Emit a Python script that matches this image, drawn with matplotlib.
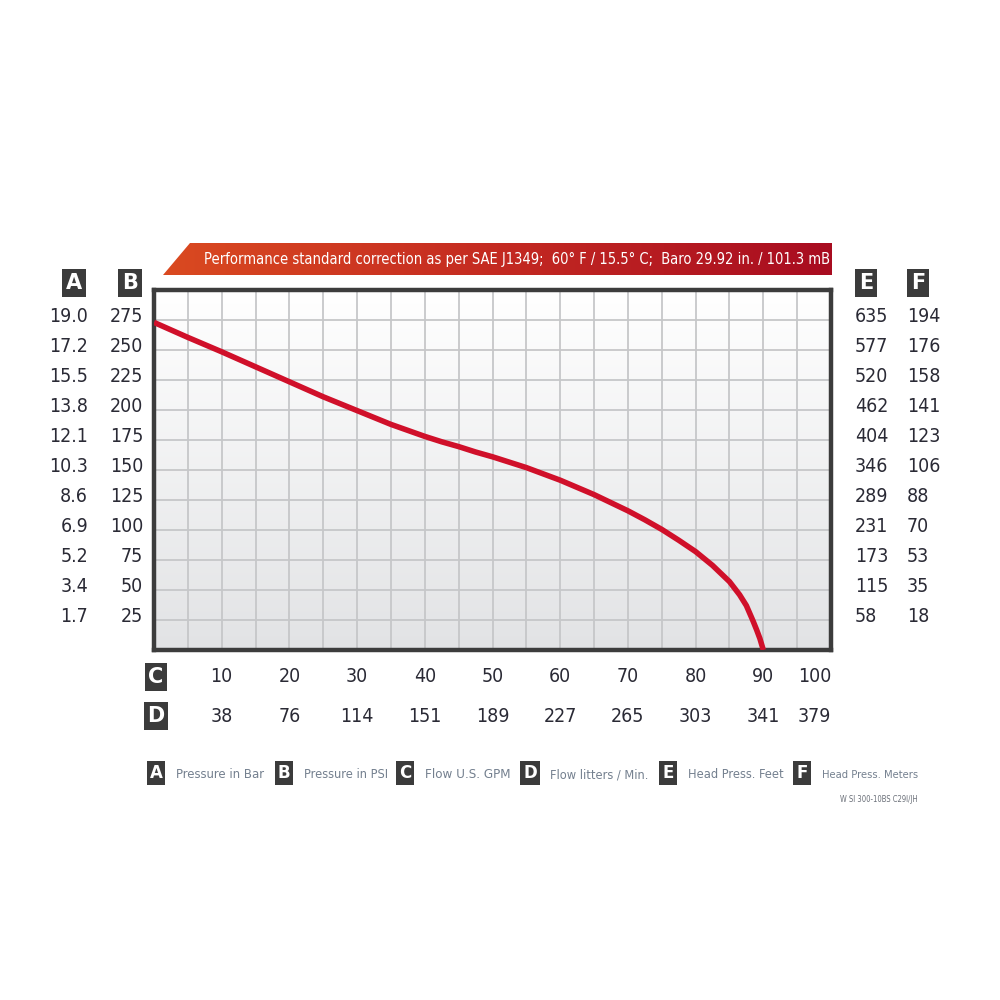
import numpy as np
import matplotlib
matplotlib.use('Agg')
from matplotlib import pyplot as plt
from matplotlib import transforms
from matplotlib.patches import Polygon
from matplotlib.colors import LinearSegmentedColormap

# pump curve (flow in US GPM, pressure in PSI)
flow_gpm = [0, 5, 10, 15, 20, 25, 30, 35, 40, 42.5, 45, 47.5, 50, 55, 60,
            65, 70, 72.5, 75, 77.5, 80, 82.5, 85, 86.5, 87.5, 88.5, 89, 89.5,
            90]
press_psi = [273, 260.5, 248.5, 236, 223.5, 211, 199.5, 188, 178, 173.5,
             169.5, 165, 161, 152, 141.5, 129.5, 116, 108.5, 100.5, 91.5, 82,
             70.5, 57, 46, 37, 24, 17, 9.5, 0]

# scale labels
psi_ticks = [25, 50, 75, 100, 125, 150, 175, 200, 225, 250, 275]
bar_labels = ['1.7', '3.4', '5.2', '6.9', '8.6', '10.3', '12.1', '13.8',
              '15.5', '17.2', '19.0']
feet_labels = ['58', '115', '173', '231', '289', '346', '404', '462', '520',
               '577', '635']
meter_labels = ['18', '35', '53', '70', '88', '106', '123', '141', '158',
                '176', '194']
gpm_ticks = [10, 20, 30, 40, 50, 60, 70, 80, 90, 100]
lpm_labels = ['38', '76', '114', '151', '189', '227', '265', '303', '341',
              '379']

legend_keys = ['A', 'B', 'C', 'D', 'E', 'F']
legend_names = ['Pressure in Bar', 'Pressure in PSI', 'Flow U.S. GPM',
                'Flow litters / Min.', 'Head Press. Feet', 'Head Press. Meters']
legend_x = [0.144, 0.272, 0.393, 0.518, 0.656, 0.790]
legend_w = [0.088, 0.084, 0.086, 0.098, 0.096, 0.096]

banner_text = ('Performance standard correction as per SAE J1349;  '
               '60\u00b0 F / 15.5\u00b0 C;  Baro 29.92 in. / 101.3 mB')

NUM_COLOR = '#2a2a35'
BOX_COLOR = '#3b3b3b'
LEG_COLOR = '#74808f'
NUM = dict(fontsize=14, color=NUM_COLOR, family='DejaVu Sans',
           fontstretch='condensed')

fig = plt.figure(figsize=(10, 10), dpi=100)
fig.patch.set_facecolor('white')
ax = fig.add_axes([0.154, 0.35, 0.677, 0.36])
ax.set_xlim(0, 100)
ax.set_ylim(0, 300)

# background gradient, white at top to light grey at bottom
grad = np.linspace(0, 1, 256).reshape(-1, 1)
bg_cmap = LinearSegmentedColormap.from_list('bg', ['#ffffff', '#e2e3e5'])
ax.imshow(grad, aspect='auto', cmap=bg_cmap, extent=[0, 100, 0, 300],
          origin='upper', zorder=0)

ax.set_xticks(np.arange(0, 101, 5))
ax.set_yticks(np.arange(0, 301, 25))
ax.grid(True, color='#c6c7c9', linewidth=1.3, zorder=1)
ax.tick_params(length=0, labelbottom=False, labelleft=False)
for sp in ax.spines.values():
    sp.set_color('#3c3c3c')
    sp.set_linewidth(3.2)

ax.plot(flow_gpm, press_psi, color='#d0102a', linewidth=4,
        solid_capstyle='butt', solid_joinstyle='round', zorder=3)

# side scales (x in figure coords, y in PSI)
side = transforms.blended_transform_factory(fig.transFigure, ax.transData)
lift = transforms.offset_copy(side, fig=fig, x=0, y=4, units='dots')
for i, v in enumerate(psi_ticks):
    fig.text(0.088, v, bar_labels[i], transform=lift, ha='right',
             va='center', **NUM)
    fig.text(0.143, v, str(v), transform=lift, ha='right', va='center', **NUM)
    fig.text(0.855, v, feet_labels[i], transform=lift, ha='left',
             va='center', **NUM)
    fig.text(0.907, v, meter_labels[i], transform=lift, ha='left',
             va='center', **NUM)

# bottom scales (x in GPM, y in figure coords)
bottom = transforms.blended_transform_factory(ax.transData, fig.transFigure)
for i, v in enumerate(gpm_ticks):
    ha = 'right' if v == 100 else 'center'
    fig.text(v, 0.323, str(v), transform=bottom, ha=ha, va='center', **NUM)
    fig.text(v, 0.284, lpm_labels[i], transform=bottom, ha=ha, va='center',
             **NUM)


def key_box(x, y, letter, size=15):
    fig.text(x, y, letter, ha='center', va='center', color='white',
             fontsize=size, fontweight='bold', family='DejaVu Sans',
             bbox=dict(boxstyle='square,pad=0.18', facecolor=BOX_COLOR,
                       edgecolor='none'))


renderer = fig.canvas.get_renderer()


def fit_text(t, width):
    # shrink a text so it spans the given figure-fraction width
    w = t.get_window_extent(renderer).width / fig.bbox.width
    if w > width:
        t.set_fontsize(t.get_fontsize() * width / w)
    return t


key_box(0.074, 0.717, 'A')
key_box(0.130, 0.717, 'B')
key_box(0.866, 0.717, 'E')
key_box(0.918, 0.717, 'F')
key_box(0.156, 0.323, 'C')
key_box(0.156, 0.284, 'D')

# legend row
for x, w, k, name in zip(legend_x, legend_w, legend_keys, legend_names):
    key_box(x + 0.012, 0.227, k, size=12)
    t = fig.text(x + 0.032, 0.225, name, ha='left', va='center',
                 fontsize=11, color=LEG_COLOR, family='DejaVu Sans',
                 fontstretch='condensed')
    fit_text(t, w)
t = fig.text(0.918, 0.201, 'W SI 300-10BS C29I/JH', ha='right', va='center',
             fontsize=7, color='#6a6f78', family='DejaVu Sans',
             fontstretch='condensed')
fit_text(t, 0.079)

# banner with red gradient
bx0, bx1, by0, by1 = 0.163, 0.832, 0.725, 0.757
slant = 0.027
banner = Polygon([(bx0, by0), (bx0 + slant, by1), (bx1, by1), (bx1, by0)],
                 closed=True, transform=fig.transFigure, facecolor='none',
                 edgecolor='none')
fig.add_artist(banner)
ban_cmap = LinearSegmentedColormap.from_list('ban', ['#da4a20', '#c42a22',
                                                     '#a80c20'])
bax = fig.add_axes([bx0, by0, bx1 - bx0, by1 - by0])
bax.set_axis_off()
img = bax.imshow(np.linspace(0, 1, 256).reshape(1, -1), aspect='auto',
                 cmap=ban_cmap, extent=[0, 1, 0, 1])
bax.set_xlim(0, 1)
bax.set_ylim(0, 1)
img.set_clip_path(banner)
t = fig.text(0.517, 0.741, banner_text, ha='center', va='center',
             color='white', fontsize=13, family='DejaVu Sans',
             fontstretch='condensed')
fit_text(t, 0.625)

fig.savefig('out.png', dpi=100, facecolor='white')
